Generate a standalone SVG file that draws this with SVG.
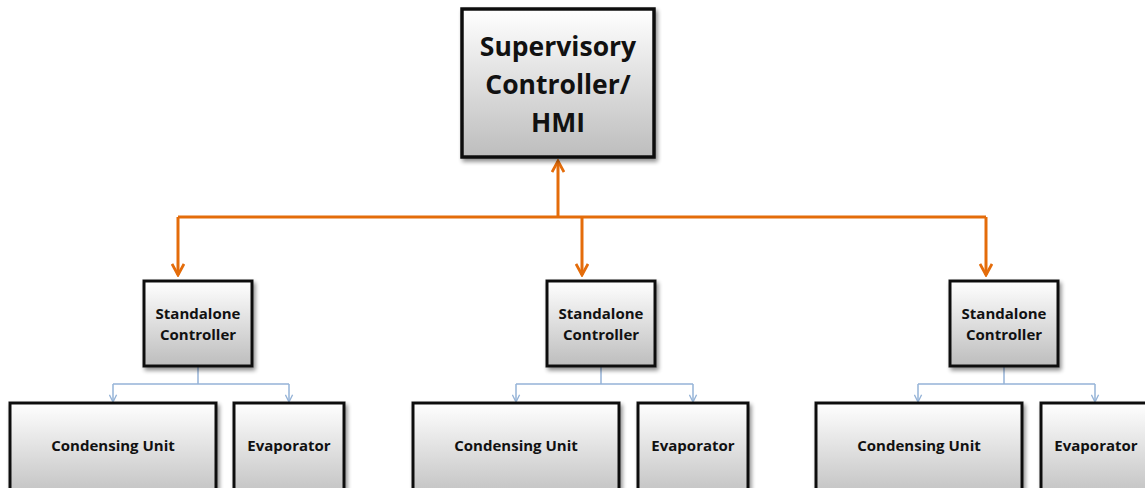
<svg xmlns="http://www.w3.org/2000/svg" width="1145" height="488" viewBox="0 0 1145 488">
<defs>
<linearGradient id="g" x1="0" y1="0" x2="0" y2="1">
<stop offset="0" stop-color="#ffffff"/>
<stop offset="1" stop-color="#bdbdbd"/>
</linearGradient>
<filter id="sh" x="-10%" y="-10%" width="130%" height="130%">
<feGaussianBlur in="SourceAlpha" stdDeviation="2"/>
<feOffset dx="2" dy="3" result="b"/>
<feComponentTransfer><feFuncA type="linear" slope="0.45"/></feComponentTransfer>
<feMerge><feMergeNode/><feMergeNode in="SourceGraphic"/></feMerge>
</filter>
<marker id="ao" viewBox="0 0 14 14" refX="12" refY="7" markerWidth="14" markerHeight="14" markerUnits="userSpaceOnUse" orient="auto">
<path d="M1,1 L12,7 L1,13" fill="none" stroke="#E46C0A" stroke-width="2.8"/>
</marker>
<marker id="ab" viewBox="0 0 10 10" refX="9" refY="5" markerWidth="9" markerHeight="9" markerUnits="userSpaceOnUse" orient="auto">
<path d="M1,1 L9,5 L1,9" fill="none" stroke="#95B3D7" stroke-width="1.5"/>
</marker>
</defs>
<style>
.box{fill:url(#g);stroke:#111;stroke-width:3;filter:url(#sh)}
.top{stroke-width:3.5}
.t{font-family:"Open Sans","Liberation Sans",sans-serif;font-weight:700;fill:#111;text-anchor:middle}
.big{font-size:26.5px}
.mid{font-size:15px}
.sm{font-size:15px}
.or{fill:none;stroke:#E46C0A;stroke-width:3}
.bl{fill:none;stroke:#95B3D7;stroke-width:1.5}
</style>
<rect width="1145" height="488" fill="#ffffff"/>
<g id="connectors">
<path class="or" d="M178,217 H986"/>
<path class="or" d="M558,217 V161" marker-end="url(#ao)"/>
<path class="or" d="M178,217 V275" marker-end="url(#ao)"/>
<path class="or" d="M582,217 V275" marker-end="url(#ao)"/>
<path class="or" d="M986,217 V275" marker-end="url(#ao)"/>
<path class="bl" d="M198,366 V384 M113,384 H289"/>
<path class="bl" d="M113,384 V402" marker-end="url(#ab)"/>
<path class="bl" d="M289,384 V402" marker-end="url(#ab)"/>
<path class="bl" d="M601,366 V384 M516,384 H693"/>
<path class="bl" d="M516,384 V402" marker-end="url(#ab)"/>
<path class="bl" d="M693,384 V402" marker-end="url(#ab)"/>
<path class="bl" d="M1004,366 V384 M918,384 H1095"/>
<path class="bl" d="M918,384 V402" marker-end="url(#ab)"/>
<path class="bl" d="M1095,384 V402" marker-end="url(#ab)"/>
</g>
<g id="supervisory">
<rect class="box top" x="462" y="9" width="192" height="148"/>
<text class="t big" x="558" y="56">Supervisory</text>
<text class="t big" x="558" y="94">Controller/</text>
<text class="t big" x="558" y="132">HMI</text>
</g>
<g id="controller1">
<rect class="box" x="144" y="281" width="108" height="85"/>
<text class="t mid" x="198" y="319">Standalone</text>
<text class="t mid" x="198" y="340">Controller</text>
</g>
<g id="controller2">
<rect class="box" x="547" y="281" width="108" height="85"/>
<text class="t mid" x="601" y="319">Standalone</text>
<text class="t mid" x="601" y="340">Controller</text>
</g>
<g id="controller3">
<rect class="box" x="950" y="281" width="108" height="85"/>
<text class="t mid" x="1004" y="319">Standalone</text>
<text class="t mid" x="1004" y="340">Controller</text>
</g>
<g id="condensing1">
<rect class="box" x="10" y="403" width="206" height="100"/>
<text class="t sm" x="113" y="451">Condensing Unit</text>
</g>
<g id="evaporator1">
<rect class="box" x="234" y="403" width="110" height="100"/>
<text class="t sm" x="289" y="451">Evaporator</text>
</g>
<g id="condensing2">
<rect class="box" x="413" y="403" width="206" height="100"/>
<text class="t sm" x="516" y="451">Condensing Unit</text>
</g>
<g id="evaporator2">
<rect class="box" x="638" y="403" width="110" height="100"/>
<text class="t sm" x="693" y="451">Evaporator</text>
</g>
<g id="condensing3">
<rect class="box" x="816" y="403" width="206" height="100"/>
<text class="t sm" x="919" y="451">Condensing Unit</text>
</g>
<g id="evaporator3">
<rect class="box" x="1041" y="403" width="110" height="100"/>
<text class="t sm" x="1096" y="451">Evaporator</text>
</g>
</svg>
